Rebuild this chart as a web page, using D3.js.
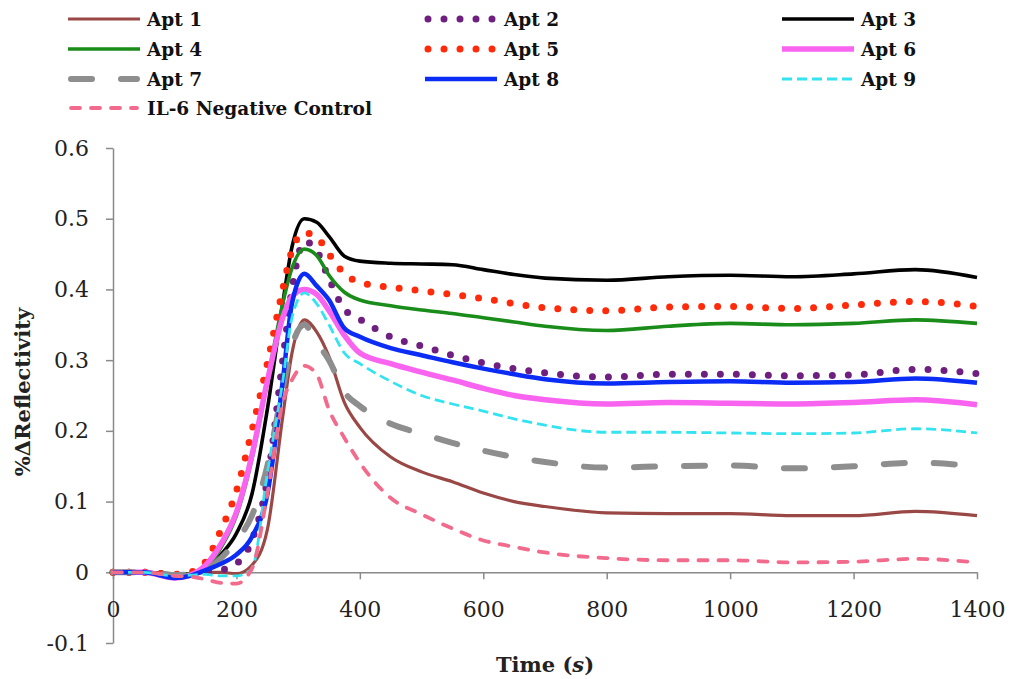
<!DOCTYPE html>
<html>
<head>
<meta charset="utf-8">
<script src="https://cdn.jsdelivr.net/npm/d3@7/dist/d3.min.js"></script>
<style>
  html, body { margin: 0; padding: 0; background: #fff; }
  svg { display: block; }
</style>
</head>
<body>
<svg id="chart" width="1009" height="679"></svg>
<script>
// ---------- DATA ----------
const times = [0, 50, 100, 125, 150, 175, 200, 225, 250, 275, 290, 310, 330, 350, 375, 400, 450, 500, 550, 600, 650, 700, 800, 900, 1000, 1100, 1200, 1300, 1400];

const apt1 = [0, 0, -0.003, -0.003, 0, 0, -0.002, 0.01, 0.06, 0.22, 0.31, 0.357, 0.34, 0.305, 0.24, 0.205, 0.163, 0.142, 0.128, 0.112, 0.1, 0.093, 0.084, 0.083, 0.083, 0.08, 0.08, 0.086, 0.08];
const apt2 = [0, 0, -0.003, -0.003, 0, 0.003, 0.012, 0.045, 0.13, 0.3, 0.4, 0.468, 0.455, 0.415, 0.372, 0.358, 0.333, 0.32, 0.307, 0.296, 0.288, 0.282, 0.276, 0.28, 0.28, 0.278, 0.279, 0.287, 0.281];
const apt3 = [0, 0, -0.002, -0.002, 0.003, 0.025, 0.055, 0.11, 0.23, 0.38, 0.46, 0.5, 0.495, 0.475, 0.447, 0.44, 0.437, 0.436, 0.435, 0.428, 0.421, 0.416, 0.413, 0.418, 0.42, 0.418, 0.422, 0.428, 0.417];
const apt4 = [0, 0, -0.003, -0.002, 0.005, 0.035, 0.08, 0.16, 0.27, 0.38, 0.43, 0.457, 0.448, 0.42, 0.396, 0.385, 0.377, 0.371, 0.366, 0.36, 0.354, 0.348, 0.342, 0.348, 0.352, 0.35, 0.352, 0.357, 0.352];
const apt5 = [0, 0, -0.003, 0, 0.015, 0.06, 0.115, 0.2, 0.295, 0.4, 0.455, 0.48, 0.474, 0.45, 0.422, 0.41, 0.403, 0.398, 0.393, 0.387, 0.38, 0.374, 0.37, 0.375, 0.376, 0.373, 0.378, 0.383, 0.376];
const apt6 = [0, 0, -0.008, -0.004, 0.01, 0.04, 0.085, 0.165, 0.27, 0.36, 0.39, 0.4, 0.393, 0.37, 0.335, 0.31, 0.295, 0.283, 0.272, 0.26, 0.25, 0.244, 0.238, 0.24, 0.239, 0.238, 0.24, 0.244, 0.237];
const apt7 = [0, 0, -0.004, -0.003, 0.003, 0.02, 0.045, 0.08, 0.15, 0.26, 0.32, 0.35, 0.325, 0.3, 0.255, 0.235, 0.21, 0.196, 0.183, 0.172, 0.163, 0.156, 0.148, 0.15, 0.151, 0.147, 0.15, 0.155, 0.15];
const apt8 = [0, 0, -0.008, -0.005, 0.003, 0.012, 0.025, 0.05, 0.11, 0.27, 0.38, 0.422, 0.405, 0.385, 0.345, 0.333, 0.317, 0.307, 0.297, 0.288, 0.28, 0.273, 0.267, 0.269, 0.27, 0.268, 0.269, 0.274, 0.268];
const apt9 = [0, 0, -0.005, -0.004, -0.003, -0.005, -0.005, 0.005, 0.14, 0.27, 0.36, 0.395, 0.38, 0.35, 0.31, 0.295, 0.27, 0.25, 0.238, 0.228, 0.217, 0.208, 0.198, 0.198, 0.197, 0.196, 0.197, 0.203, 0.197];
const il6 = [0, 0, -0.005, -0.006, -0.01, -0.015, -0.016, 0.005, 0.11, 0.24, 0.272, 0.292, 0.28, 0.23, 0.19, 0.155, 0.105, 0.082, 0.062, 0.045, 0.036, 0.028, 0.02, 0.017, 0.017, 0.014, 0.015, 0.019, 0.014];

const seriesNames = ["Apt 1", "Apt 2", "Apt 3", "Apt 4", "Apt 5", "Apt 6", "Apt 7", "Apt 8", "Apt 9", "IL-6 Negative Control"];
const xTicks = [0, 200, 400, 600, 800, 1000, 1200, 1400];
const yTicks = [-0.1, 0, 0.1, 0.2, 0.3, 0.4, 0.5, 0.6];

// ---------- STYLES ----------
const styles = [
  { color: "#9a4845", width: 3.2, dash: null, cap: "butt" },
  { color: "#6f1f7f", width: 7, dash: "0,16", cap: "round" },
  { color: "#000000", width: 3.6, dash: null, cap: "butt" },
  { color: "#1a8c1a", width: 3.6, dash: null, cap: "butt" },
  { color: "#ff2a0a", width: 7, dash: "0,16", cap: "round" },
  { color: "#f863f0", width: 5.5, dash: null, cap: "butt" },
  { color: "#8e8e8e", width: 6, dash: "21,29", cap: "round" },
  { color: "#0a2cf5", width: 4.5, dash: null, cap: "butt" },
  { color: "#33e3f0", width: 2.8, dash: "10,5", cap: "butt" },
  { color: "#f26b8c", width: 3.8, dash: "9,11", cap: "round" }
];
const seriesValues = [apt1, apt2, apt3, apt4, apt5, apt6, apt7, apt8, apt9, il6];

// ---------- CHART ----------
const svg = d3.select("#chart");
const x = d3.scaleLinear().domain([0, 1400]).range([113, 977]);
const y = d3.scaleLinear().domain([-0.1, 0.6]).range([643, 148]);

const tickFont = "'DejaVu Serif', serif";
const boldFont = "'DejaVu Serif', serif";

// Y axis
const yAxis = svg.append("g")
  .attr("transform", `translate(${x(0)},0)`)
  .call(d3.axisLeft(y).tickValues(yTicks).tickSize(7).tickSizeOuter(0).tickPadding(17)
    .tickFormat(d => Math.abs(d) < 1e-9 ? "0" : d.toFixed(1)));
yAxis.select(".domain").attr("stroke", "#8a8a8a").attr("stroke-width", 1.5);
yAxis.selectAll(".tick line").attr("stroke", "#8a8a8a").attr("stroke-width", 1.5);
yAxis.selectAll(".tick text").attr("font-family", tickFont).attr("font-size", 22).attr("fill", "#222");

// X axis at y=0
const xAxis = svg.append("g")
  .attr("transform", `translate(0,${y(0)})`)
  .call(d3.axisBottom(x).tickValues(xTicks).tickSize(7).tickSizeOuter(0).tickPadding(22)
    .tickFormat(d => String(d)));
xAxis.select(".domain").attr("stroke", "#8a8a8a").attr("stroke-width", 1.5);
xAxis.selectAll(".tick line").attr("stroke", "#8a8a8a").attr("stroke-width", 1.5);
xAxis.selectAll(".tick text").attr("font-family", tickFont).attr("font-size", 22).attr("fill", "#222");

// Lines
const line = d3.line()
  .x((d, i) => x(times[i]))
  .y(d => y(d))
  .curve(d3.curveMonotoneX);

seriesValues.forEach((vals, i) => {
  const s = styles[i];
  svg.append("path")
    .datum(vals)
    .attr("d", line)
    .attr("fill", "none")
    .attr("stroke", s.color)
    .attr("stroke-width", s.width)
    .attr("stroke-linecap", s.cap)
    .attr("stroke-linejoin", "round")
    .attr("stroke-dasharray", s.dash);
});

// Axis titles
svg.append("text")
  .attr("transform", `translate(30,${392}) rotate(-90)`)
  .attr("text-anchor", "middle")
  .attr("font-family", boldFont)
  .attr("font-weight", "bold")
  .attr("font-size", 21)
  .attr("fill", "#222")
  .text("%ΔReflectivity");

const xt = svg.append("text")
  .attr("x", 545).attr("y", 672)
  .attr("text-anchor", "middle")
  .attr("font-family", boldFont)
  .attr("font-weight", "bold")
  .attr("font-size", 21)
  .attr("fill", "#222");
xt.append("tspan").text("Time (");
xt.append("tspan").attr("font-style", "italic").text("s");
xt.append("tspan").text(")");

// Legend
const legendCols = [68, 425, 782];
const legendRows = [19, 49, 79, 108];
const legend = svg.append("g");
seriesNames.forEach((name, i) => {
  const col = i % 3, row = Math.floor(i / 3);
  const lx = legendCols[col], ly = legendRows[row];
  const s = styles[i];
  const g = legend.append("g");
  g.append("line")
    .attr("x1", lx + (s.cap === "round" ? 3 : 0)).attr("x2", lx + 72 - (s.cap === "round" ? 3 : 0))
    .attr("y1", ly).attr("y2", ly)
    .attr("stroke", s.color)
    .attr("stroke-width", s.width)
    .attr("stroke-linecap", s.cap)
    .attr("stroke-dasharray", s.dash);
  g.append("text")
    .attr("x", lx + 79).attr("y", ly + 7)
    .attr("font-family", boldFont)
    .attr("font-weight", "bold")
    .attr("font-size", 18.5)
    .attr("fill", "#111")
    .text(name);
});
</script>
</body>
</html>
